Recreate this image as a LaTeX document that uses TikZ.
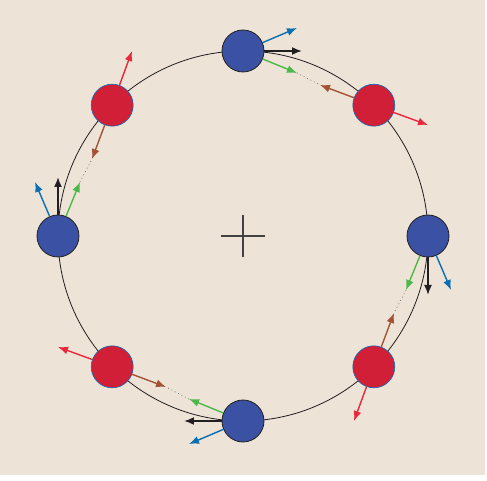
\documentclass[tikz,border=0pt]{standalone}
\usepackage{tikz}
\usetikzlibrary{arrows.meta,calc}
\definecolor{bgbeige}{RGB}{237,228,215}
\definecolor{ballblue}{RGB}{59,81,163}
\definecolor{ballred}{RGB}{208,31,54}
\definecolor{arrblue}{RGB}{10,110,180}
\definecolor{arrgreen}{RGB}{77,184,72}
\definecolor{arrbrown}{RGB}{164,82,53}
\definecolor{arrred}{RGB}{232,41,60}
\definecolor{darkline}{RGB}{35,31,32}

\begin{document}
\begin{tikzpicture}[x=1pt,y=1pt,
    force/.style={-{Latex[length=10pt,width=8pt]},line width=1.4pt},
    blueball/.style={draw=darkline,shape=circle,fill=ballblue,minimum size=42pt,line width=0.8pt,inner sep=0},
    redball/.style={draw=arrblue,shape=circle,fill=ballred,minimum size=42pt,line width=0.6pt,inner sep=0}]
  \useasboundingbox (-243,-245) rectangle (244,236);
  % background
  \fill[bgbeige] (-243,-239) rectangle (242,236);
  % orbit and centre
  \draw[darkline,line width=0.8pt] (0,0) circle (185);
  \draw[darkline!85,line width=1.3pt] (-22,0) -- (22,0) (0,-21) -- (0,21);
  % one blue/red pair, turned four times
  \foreach \a in {0,90,180,270}{
    \begin{scope}[rotate=\a]
      \node[blueball] (blue\a) at (90:185) {};
      \node[redball] (red\a) at (45:185) {};
      \coordinate (tan\a) at (59,185);
      \coordinate (out\a) at (54,208);
      \coordinate (in\a) at (54,163);
      \coordinate (pull\a) at (77,151);
      \coordinate (push\a) at (185,111);
      \draw[force,darkline,line width=1.7pt] (blue\a) -- (tan\a);
      \draw[force,arrblue] (blue\a) -- (out\a);
      \draw[force,arrgreen] (blue\a) -- (in\a);
      \draw[force,arrbrown] (red\a) -- (pull\a);
      \draw[force,arrred] (red\a) -- (push\a);
      \draw[darkline!60,line width=0.8pt,dash pattern=on 0.8pt off 3pt] (in\a) -- (pull\a);
    \end{scope}
  }
\end{tikzpicture}
\end{document}
